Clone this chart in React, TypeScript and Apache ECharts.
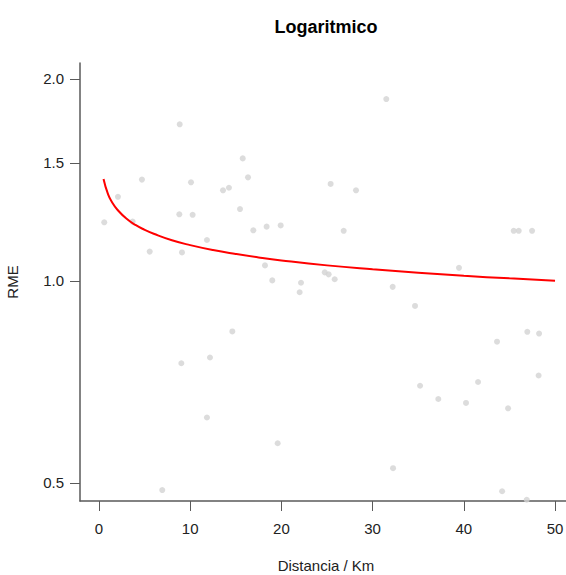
import React, { useEffect, useRef } from "react";
import * as echarts from "echarts";

// Scatter observations (Distancia / Km, RME)
const pointX = [
  0.58, 2.08, 3.69, 4.71, 5.56, 8.85, 8.81, 9.1, 10.09, 10.27, 11.84, 13.6, 14.25, 15.76, 15.46, 16.34, 16.92,
  31.5, 25.4, 28.18, 18.38, 19.92, 26.83, 18.2, 19.0, 22.15, 22.0, 24.75, 25.18, 25.84, 32.2, 39.47, 45.47, 46.02, 47.48,
  14.62, 9.03, 12.17, 11.84, 19.59, 6.94,
  34.65, 43.64, 46.96, 48.25, 48.2, 41.56, 35.2, 37.2, 40.24, 44.85, 32.24, 44.2, 46.9,
];
const pointY = [
  1.223, 1.335, 1.226, 1.416, 1.106, 1.712, 1.257, 1.103, 1.403, 1.255, 1.151, 1.365, 1.377, 1.523, 1.28, 1.427, 1.19,
  1.867, 1.395, 1.365, 1.205, 1.21, 1.188, 1.055, 1.002, 0.994, 0.962, 1.03, 1.023, 1.006, 0.98, 1.046, 1.188, 1.188, 1.188,
  0.841, 0.754, 0.769, 0.626, 0.573, 0.488,
  0.918, 0.812, 0.84, 0.835, 0.723, 0.707, 0.698, 0.667, 0.658, 0.646, 0.526, 0.486, 0.472,
];

// Fitted logarithmic curve
const curveX = [0.5, 1, 1.5, 2, 3, 4, 5, 6, 8, 10, 12.5, 15, 17.5, 20, 25, 30, 35, 40, 45, 50];
const curveY = [
  1.419, 1.346, 1.306, 1.278, 1.239, 1.212, 1.192, 1.176, 1.15, 1.131, 1.112, 1.097, 1.084, 1.073, 1.055, 1.041,
  1.029, 1.018, 1.009, 1.001,
];

const xTicks = [0, 10, 20, 30, 40, 50];
const yTicks = [0.5, 1.0, 1.5, 2.0];

const FONT = "'Liberation Sans', Arial, Helvetica, sans-serif";

export default function App() {
  const ref = useRef<HTMLDivElement>(null);
  useEffect(() => {
    document.body.style.margin = "0";
    const chart = echarts.init(ref.current!, null, { renderer: "svg" });
    const axisCol = "#5a5a5a";
    const textCol = "#222";
    chart.setOption({
      animation: false,
      backgroundColor: "#ffffff",
      graphic: [
        {
          type: "text",
          x: 326,
          y: 27,
          style: {
            text: "Logaritmico",
            textAlign: "center",
            textVerticalAlign: "middle",
            font: `bold 18px ${FONT}`,
            fill: "#000",
          },
        },
      ],
      grid: { left: 80, top: 63, right: -6, bottom: 74, containLabel: false, outerBoundsMode: "none" },
      xAxis: {
        type: "value",
        min: -2.08,
        max: 51.86,
        name: "Distancia / Km",
        nameLocation: "middle",
        nameGap: 57,
        nameTextStyle: { fontFamily: FONT, fontSize: 15, color: textCol },
        axisLine: { show: true, onZero: false, lineStyle: { color: axisCol, width: 1.5 } },
        axisTick: { show: true, inside: false, length: 10, customValues: xTicks, lineStyle: { color: axisCol, width: 1 } },
        axisLabel: {
          customValues: xTicks,
          margin: 20,
          fontFamily: FONT,
          fontSize: 15,
          color: textCol,
          formatter: (v: number) => String(Math.round(v)),
        },
        splitLine: { show: false },
      },
      yAxis: {
        type: "value",
        min: -0.755,
        max: 0.748,
        name: "RME",
        nameLocation: "middle",
        nameRotate: 90,
        nameGap: 60,
        nameTextStyle: { fontFamily: FONT, fontSize: 15, color: textCol },
        axisLine: { show: true, onZero: false, lineStyle: { color: axisCol, width: 1.5 } },
        axisTick: {
          show: true,
          inside: false,
          length: 10,
          customValues: yTicks.map((v) => Math.log(v)),
          lineStyle: { color: axisCol, width: 1 },
        },
        axisLabel: {
          customValues: yTicks.map((v) => Math.log(v)),
          margin: 16,
          fontFamily: FONT,
          fontSize: 15,
          color: textCol,
          formatter: (v: number) => Math.exp(v).toFixed(1),
        },
        splitLine: { show: false },
      },
      series: [
        {
          type: "scatter",
          data: pointX.map((x, i) => [x, Math.log(pointY[i])]),
          symbol: "circle",
          symbolSize: 6,
          itemStyle: { color: "#d3d3d3" },
          z: 2,
        },
        {
          type: "line",
          data: curveX.map((x, i) => [x, Math.log(curveY[i])]),
          smooth: true,
          showSymbol: false,
          lineStyle: { color: "#ff0000", width: 2 },
          z: 3,
        },
      ],
    });
    return () => chart.dispose();
  }, []);
  return <div ref={ref} style={{ position: "absolute", left: 0, top: 0, width: 566, height: 575 }} />;
}
